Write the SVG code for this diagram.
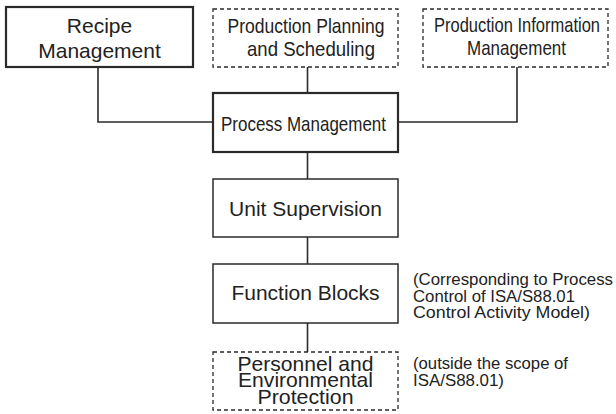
<svg xmlns="http://www.w3.org/2000/svg" width="616" height="414" viewBox="0 0 616 414">
<style>
.bg{fill:#fff}
.box{fill:#fff;stroke:#2a2a2a;stroke-width:1.5}
.thick{stroke-width:2.2}
.dash{fill:#fff;stroke:#2a2a2a;stroke-width:1.3;stroke-dasharray:4 3}
.lbl{font-family:"Liberation Sans",Arial,sans-serif;font-size:21px;fill:#222;text-anchor:middle}
.note{font-family:"Liberation Sans",Arial,sans-serif;font-size:16px;fill:#222}
.conn{fill:none;stroke:#2a2a2a;stroke-width:1.6}
</style>
<rect class="bg" x="0" y="0" width="616" height="414"/>
<g id="connectors">
<path class="conn" d="M98,67 V122 H213"/>
<path class="conn" d="M307.5,67 V93"/>
<path class="conn" d="M517,67 V122 H398"/>
<path class="conn" d="M307.5,152 V179"/>
<path class="conn" d="M307.5,237 V264"/>
<path class="conn" d="M307.5,323 V352"/>
</g>
<g id="recipe-management">
<rect class="box thick" x="6" y="7" width="187" height="60"/>
<text class="lbl" x="99.5" y="33">Recipe</text>
<text class="lbl" x="99.5" y="58">Management</text>
</g>
<g id="production-planning">
<rect class="dash" x="213" y="9" width="185" height="58"/>
<text class="lbl" x="306" y="33" font-size="19" textLength="157" lengthAdjust="spacingAndGlyphs">Production Planning</text>
<text class="lbl" x="311" y="56" font-size="19" textLength="128" lengthAdjust="spacingAndGlyphs">and Scheduling</text>
</g>
<g id="production-information">
<rect class="dash" x="423" y="9" width="185" height="58"/>
<text class="lbl" x="517" y="32" font-size="19" textLength="166" lengthAdjust="spacingAndGlyphs">Production Information</text>
<text class="lbl" x="516.5" y="55" font-size="19" textLength="99" lengthAdjust="spacingAndGlyphs">Management</text>
</g>
<g id="process-management">
<rect class="box thick" x="213" y="93" width="185" height="59"/>
<text class="lbl" x="303.5" y="130.5" font-size="20" textLength="165" lengthAdjust="spacingAndGlyphs">Process Management</text>
</g>
<g id="unit-supervision">
<rect class="box" x="213" y="179" width="185" height="58"/>
<text class="lbl" x="305.5" y="216">Unit Supervision</text>
</g>
<g id="function-blocks">
<rect class="box" x="213" y="264" width="185" height="59"/>
<text class="lbl" x="305.5" y="300">Function Blocks</text>
</g>
<g id="personnel-protection">
<rect class="dash" x="213" y="352" width="185" height="58"/>
<text class="lbl" x="305.5" y="370.5" font-size="18" textLength="136" lengthAdjust="spacingAndGlyphs">Personnel and</text>
<text class="lbl" x="305.5" y="387" font-size="18" textLength="135" lengthAdjust="spacingAndGlyphs">Environmental</text>
<text class="lbl" x="305.5" y="403.5" font-size="18" textLength="96" lengthAdjust="spacingAndGlyphs">Protection</text>
</g>
<g id="notes">
<text class="note" x="413" y="285" textLength="200" lengthAdjust="spacingAndGlyphs">(Corresponding to Process</text>
<text class="note" x="413" y="301.5" textLength="162" lengthAdjust="spacingAndGlyphs">Control of ISA/S88.01</text>
<text class="note" x="413" y="318" textLength="177" lengthAdjust="spacingAndGlyphs">Control Activity Model)</text>
<text class="note" x="413" y="369" textLength="155" lengthAdjust="spacingAndGlyphs">(outside the scope of</text>
<text class="note" x="413" y="385.5" textLength="91" lengthAdjust="spacingAndGlyphs">ISA/S88.01)</text>
</g>
</svg>
